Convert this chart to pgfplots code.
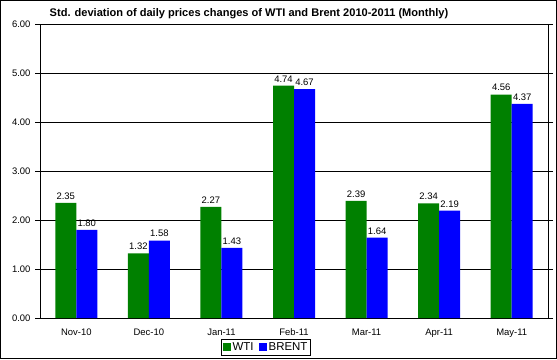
\documentclass[border=0pt]{standalone}
\usepackage{pgfplots}
\pgfplotsset{compat=1.18}
\usepackage{fontspec}
\setmainfont{Liberation Sans}
\definecolor{wti}{RGB}{0,128,0}
\definecolor{brent}{RGB}{0,0,255}
\begin{document}
\begin{tikzpicture}[x=1bp,y=1bp]
\draw[black,line width=0.8bp] (0.4,0.4) rectangle (556.6,358.6);
\node[font=\bfseries\fontsize{11.1}{13}\selectfont] at (249,345) {Std. deviation of daily prices changes of WTI and Brent 2010-2011 (Monthly)};
\begin{axis}[
  at={(40bp,41bp)}, anchor=south west,
  scale only axis, width=508bp, height=294bp,
  ybar=0pt, bar width=21bp,
  xmin=-0.5, xmax=6.5, ymin=0, ymax=6,
  xtick={0,...,6},
  xticklabels={Nov-10,Dec-10,Jan-11,Feb-11,Mar-11,Apr-11,May-11},
  major x tick style={draw=none},
  extra x ticks={-0.5,0.5,1.5,2.5,3.5,4.5,5.5,6.5},
  extra x tick labels={},
  extra x tick style={major tick length=5bp, tick style={draw=black, line width=0.6bp}, tick align=outside},
  ytick={0,1,...,6},
  /pgf/number format/assume math mode=true,
  ymajorgrids, grid style={black, line width=0.6bp},
  axis line style={black, line width=0.8bp},
  tick align=outside, major tick length=5bp,
  y tick style={black, line width=0.6bp},
  ticklabel style={font=\fontsize{9.5}{11}\selectfont},
  yticklabel style={xshift=-1bp,/pgf/number format/.cd,fixed,fixed zerofill,precision=2},
  xticklabel style={yshift=-2bp},
  nodes near coords,
  nodes near coords style={font=\fontsize{9.5}{11}\selectfont, black, /pgf/number format/.cd,fixed,fixed zerofill,precision=2, /pgf/number format/assume math mode=true},
  legend style={at={(0.445,-0.1)}, anchor=center, legend columns=2, draw=black, line width=0.6bp, font=\fontsize{11.5}{13}\selectfont, inner sep=1bp, /tikz/every even column/.append style={column sep=3bp}},
  legend image code/.code={\draw[#1, draw=none] (0bp,-4bp) rectangle (8bp,4bp);},
]
\addplot[fill=wti, draw=none] coordinates {(0,2.35) (1,1.32) (2,2.27) (3,4.74) (4,2.39) (5,2.34) (6,4.56)};
\addplot[fill=brent, draw=none] coordinates {(0,1.80) (1,1.58) (2,1.43) (3,4.67) (4,1.64) (5,2.19) (6,4.37)};
\legend{WTI,BRENT}
\end{axis}
\end{tikzpicture}
\end{document}
